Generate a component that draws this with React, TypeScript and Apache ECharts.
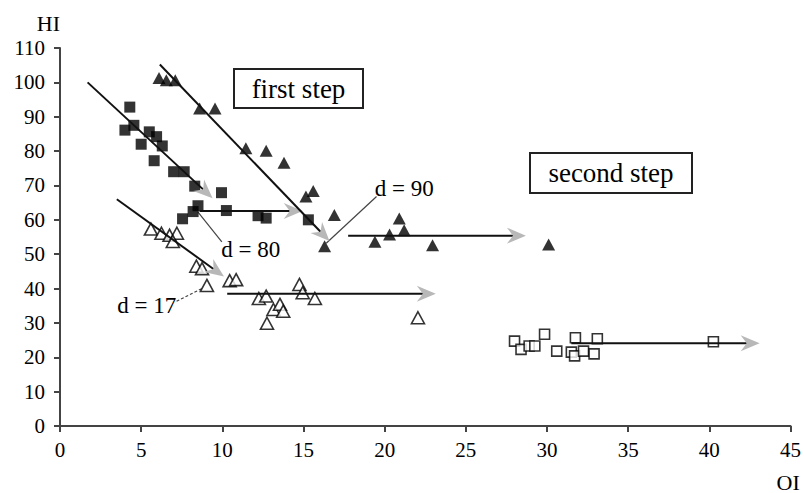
import React, { useEffect, useRef } from "react";
import * as echarts from "echarts";

// ---- data ----
const filledSquares: number[][] = [
  [4.3, 92.8], [4.0, 86.1], [4.55, 87.5], [5.0, 82.0], [5.5, 85.6], [5.95, 84.2],
  [6.3, 81.5], [5.8, 77.2], [7.0, 74.0], [7.65, 74.0], [8.3, 69.8], [9.95, 67.9],
  [7.55, 60.3], [8.2, 62.4], [8.5, 64.1], [10.25, 62.7], [12.2, 61.2], [12.7, 60.5],
  [15.3, 60.0],
];

const filledTriangles: number[][] = [
  [6.1, 101.3], [6.55, 100.6], [7.1, 100.6], [8.6, 92.4], [9.55, 92.4], [11.45, 80.8],
  [12.7, 80.1], [13.8, 76.6], [15.15, 66.8], [15.6, 68.4], [16.9, 61.4], [16.3, 52.3],
  [19.4, 53.6], [20.3, 55.7], [20.9, 60.4], [21.2, 57.0], [22.95, 52.6], [30.1, 52.8],
];

const openTriangles: number[][] = [
  [5.6, 57.3], [6.25, 56.1], [6.75, 55.5], [7.2, 56.1], [6.95, 53.7], [8.4, 46.5],
  [8.75, 45.8], [9.05, 40.9], [10.45, 42.3], [10.85, 42.6], [12.25, 37.1], [12.7, 37.8],
  [12.75, 29.9], [13.15, 33.9], [13.55, 35.4], [13.75, 33.4], [14.75, 41.2], [14.95, 38.8],
  [15.7, 37.1], [22.05, 31.5],
];

const openSquares: number[][] = [
  [28.0, 24.7], [28.4, 22.3], [28.9, 23.3], [29.25, 23.3], [29.85, 26.7], [30.6, 21.8],
  [31.5, 21.5], [31.7, 20.4], [31.75, 25.7], [32.25, 21.8], [32.9, 21.0], [33.1, 25.4],
  [40.25, 24.5],
];

// trend lines: [xStart, yStart, xArrowTip, yArrowTip]
const trendLines: number[][] = [
  [1.7, 100, 9.4, 66.3],
  [8.6, 62.6, 14.95, 62.6],
  [6.15, 105.2, 16.6, 53.8],
  [17.75, 55.4, 28.7, 55.4],
  [3.5, 66, 10.1, 43.5],
  [10.3, 38.5, 23.15, 38.5],
  [31.5, 24.1, 43.1, 24.1],
];

// annotations: label, label position, leader line [x1, y1, x2, y2]
const annotationTexts: string[] = ["d = 80", "d = 90", "d = 17"];
const annotationPos: number[][] = [[11.75, 51.3], [21.2, 69.0], [5.35, 35.1]];
const leaderLines: number[][] = [
  [8.49, 62.3, 9.97, 53.6],
  [19.5, 66.8, 16.4, 53.2],
  [7.18, 36.3, 8.82, 40.2],
];

const stepLabels: string[] = ["first step", "second step"];

const FONT = "'Liberation Serif', 'DejaVu Serif', serif";

export default function App() {
  const ref = useRef<HTMLDivElement>(null);

  useEffect(() => {
    if (!ref.current) return;
    const chart = echarts.init(ref.current, null, { renderer: "svg" });

    const annData = annotationPos.map((p, i) => [p[0], p[1], ...leaderLines[i]]);

    chart.setOption({
      animation: false,
      backgroundColor: "#fff",
      textStyle: { fontFamily: FONT },
      grid: { left: 60, right: 13, top: 48, bottom: 66 },
      xAxis: {
        type: "value",
        min: 0,
        max: 45,
        interval: 5,
        name: "OI",
        nameLocation: "end",
        nameGap: -14,
        nameTextStyle: {
          fontFamily: FONT,
          fontSize: 22,
          color: "#000",
          align: "left",
          verticalAlign: "top",
          padding: [45, 0, 0, 0],
        },
        axisLine: { lineStyle: { color: "#444", width: 2 } },
        axisTick: { inside: false, length: 6, lineStyle: { color: "#444", width: 2 } },
        axisLabel: { fontFamily: FONT, fontSize: 21, color: "#000", margin: 13 },
        splitLine: { show: false },
      },
      yAxis: {
        type: "value",
        min: 0,
        max: 110,
        interval: 10,
        name: "HI",
        nameLocation: "end",
        nameGap: 14,
        nameTextStyle: { fontFamily: FONT, fontSize: 22, color: "#000", align: "right" },
        axisLine: { lineStyle: { color: "#444", width: 2 } },
        axisTick: { inside: false, length: 6, lineStyle: { color: "#444", width: 2 } },
        axisLabel: { fontFamily: FONT, fontSize: 21, color: "#000", margin: 15 },
        splitLine: { show: false },
      },
      series: [
        {
          type: "custom",
          name: "leaders",
          data: annData,
          encode: { x: [0, 2, 4], y: [1, 3, 5] },
          clip: false,
          z: 1,
          renderItem: (params: any, api: any) => {
            const t = api.coord([api.value(0), api.value(1)]);
            const a = api.coord([api.value(2), api.value(3)]);
            const b = api.coord([api.value(4), api.value(5)]);
            const idx = params.dataIndex;
            return {
              type: "group",
              children: [
                {
                  type: "line",
                  shape: { x1: a[0], y1: a[1], x2: b[0], y2: b[1] },
                  style: {
                    stroke: "#444",
                    lineWidth: 1.2,
                    lineDash: idx === 2 ? [3, 2] : null,
                  },
                },
                {
                  type: "text",
                  x: t[0],
                  y: t[1],
                  style: {
                    text: annotationTexts[idx],
                    fontFamily: FONT,
                    fontSize: 23,
                    fill: "#000",
                    align: "center",
                    verticalAlign: "middle",
                  },
                },
              ],
            };
          },
        },
        {
          type: "scatter",
          name: "filled squares",
          data: filledSquares,
          symbol: "rect",
          symbolSize: 11,
          itemStyle: { color: "#000" },
          z: 3,
        },
        {
          type: "scatter",
          name: "filled triangles",
          data: filledTriangles,
          symbol: "triangle",
          symbolSize: [13, 12],
          itemStyle: { color: "#000" },
          z: 3,
        },
        {
          type: "scatter",
          name: "open triangles",
          data: openTriangles,
          symbol: "triangle",
          symbolSize: [13, 12],
          itemStyle: { color: "#fff", borderColor: "#000", borderWidth: 1.6 },
          z: 3,
        },
        {
          type: "scatter",
          name: "open squares",
          data: openSquares,
          symbol: "rect",
          symbolSize: 10,
          itemStyle: { color: "#fff", borderColor: "#000", borderWidth: 1.6 },
          z: 3,
        },
        {
          type: "custom",
          name: "trends",
          data: trendLines,
          encode: { x: [0, 2], y: [1, 3] },
          clip: false,
          z: 4,
          renderItem: (_params: any, api: any) => {
            const p1 = api.coord([api.value(0), api.value(1)]);
            const p2 = api.coord([api.value(2), api.value(3)]);
            const dx = p2[0] - p1[0];
            const dy = p2[1] - p1[1];
            const len = Math.hypot(dx, dy) || 1;
            const ux = dx / len;
            const uy = dy / len;
            const L = 19;
            const W = 16;
            const bx = p2[0] - ux * L;
            const by = p2[1] - uy * L;
            const nx = -uy;
            const ny = ux;
            const mx = p2[0] - ux * L * 0.68;
            const my = p2[1] - uy * L * 0.68;
            return {
              type: "group",
              children: [
                {
                  type: "line",
                  shape: { x1: p1[0], y1: p1[1], x2: mx, y2: my },
                  style: { stroke: "#111", lineWidth: 2 },
                },
                {
                  type: "polygon",
                  shape: {
                    points: [
                      [p2[0], p2[1]],
                      [bx + (nx * W) / 2, by + (ny * W) / 2],
                      [mx, my],
                      [bx - (nx * W) / 2, by - (ny * W) / 2],
                    ],
                  },
                  style: { fill: "#b8b8b8" },
                },
              ],
            };
          },
        },
      ],
      graphic: [
        {
          type: "group",
          left: 233,
          top: 68,
          children: [
            {
              type: "rect",
              shape: { x: 0, y: 0, width: 129, height: 39 },
              style: { fill: "#fff", stroke: "#222", lineWidth: 2 },
            },
            {
              type: "text",
              x: 64.5,
              y: 19.5,
              style: {
                text: stepLabels[0],
                fontFamily: FONT,
                fontSize: 27,
                fill: "#000",
                align: "center",
                verticalAlign: "middle",
              },
            },
          ],
        },
        {
          type: "group",
          left: 529,
          top: 152,
          children: [
            {
              type: "rect",
              shape: { x: 0, y: 0, width: 162, height: 40 },
              style: { fill: "#fff", stroke: "#222", lineWidth: 2 },
            },
            {
              type: "text",
              x: 81,
              y: 20,
              style: {
                text: stepLabels[1],
                fontFamily: FONT,
                fontSize: 27,
                fill: "#000",
                align: "center",
                verticalAlign: "middle",
              },
            },
          ],
        },
      ],
    });

    return () => {
      chart.dispose();
    };
  }, []);

  return <div ref={ref} style={{ width: 804, height: 493, position: "absolute", left: 0, top: 0 }} />;
}
